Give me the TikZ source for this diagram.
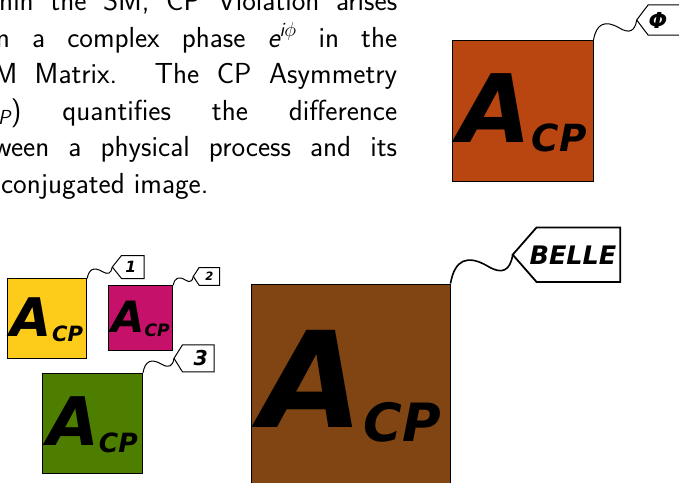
\RequirePackage{fix-cm}
\documentclass[tikz,border=0pt]{standalone}
\usepackage{amsmath}
\usepackage{fontspec}
\newfontfamily\dvbo{DejaVu Sans Bold Oblique}
\usetikzlibrary{calc}
\definecolor{cOrange}{HTML}{B94610}
\definecolor{cBrown}{HTML}{804512}
\definecolor{cYellow}{HTML}{FDCC1A}
\definecolor{cMagenta}{HTML}{C6116A}
\definecolor{cGreen}{HTML}{4E7E00}
\newcommand\sfit[1]{\text{\sffamily\itshape #1}}
\newcommand\acptext[1]{%
  \pgfmathsetlengthmacro\acpA{0.67*#1}%
  \pgfmathsetlengthmacro\acpC{0.265*#1}%
  \pgfmathsetlengthmacro\acpR{-0.067*#1}%
  \pgfmathsetlengthmacro\acpH{0.515*#1}%
  \rule{0pt}{\acpH}{\fontsize{\acpA}{\acpA}\selectfont A}\raisebox{\acpR}{\fontsize{\acpC}{\acpC}\selectfont CP}}
% wavy connector from #2 to #3
\newcommand\wavecon[3][]{%
  \draw[wave,#1] (#2) .. controls ($(#2)!0.2!(#3)!0.36!90:(#3)$) and ($(#2)!0.4!(#3)!0.48!90:(#3)$) ..
    ($(#2)!0.6!(#3)$) .. controls ($(#2)!0.733!(#3)!0.75!-90:(#3)$) and ($(#2)!0.867!(#3)!1.5!-90:(#3)$) .. (#3);}
% tag outline around body node #2 with tip #3
\newcommand\tagline[3][]{%
  \draw[tagedge,#1] (#2.north west) -- (#2.north east) -- (#2.south east) -- (#2.south west) -- (#3) -- cycle;}
\begin{document}
\begin{tikzpicture}[x=1pt,y=-1pt,
  acpbox/.style={draw=black, line width=1pt, minimum size=#1pt, inner sep=0pt, font=\dvbo},
  tagbody/.style={inner sep=0pt, font=\dvbo},
  tagedge/.style={draw=black, line width=1pt, line join=miter},
  wave/.style={draw=black, line width=1pt},
  para/.style={anchor=north west, inner sep=0pt, text width=440pt, align=justify,
    font=\sffamily\fontsize{29}{36.5}\selectfont}]
\useasboundingbox (0,0) rectangle (679,482);
\clip (0,0) rectangle (679,482);

% paragraph
\node[para] (txt) at (-43,-10.1) {Within the SM, CP Violation arises\linebreak
from a complex phase $\sfit{e}^{\sfit{i}\phi}$ in the\linebreak
CKM Matrix. The CP Asymmetry\linebreak
($\sfit{A}_{\sfit{CP}}$) quantifies the difference\linebreak
between a physical process and its\linebreak
CP conjugated image.};

% boxes
\node[acpbox=141, fill=cOrange] (phibox) at (522.5,111) {\acptext{141}};
\node[acpbox=79.4, fill=cYellow] (box1) at (47,318.6) {\acptext{79.4}};
\node[acpbox=64.4, fill=cMagenta] (box2) at (140.5,318) {\acptext{64.4}};
\node[acpbox=100, fill=cGreen] (box3) at (92.5,423.3) {\acptext{100}};
\node[acpbox=199, fill=cBrown] (bellebox) at (350.5,383.5) {\acptext{199}};

% tags
\node[tagbody, minimum width=41.7pt, minimum height=30pt, font=\dvbo\fontsize{22}{22}\selectfont] (tagphi) at (669.2,20) {\hspace*{-22.4pt}Φ};
\coordinate (tipphi) at (636.7,20);
\node[tagbody, minimum width=22.3pt, minimum height=22.6pt, font=\dvbo\fontsize{15.5}{15.5}\selectfont] (tag1) at (132.85,267) {\hspace*{-4pt}1};
\coordinate (tip1) at (112.3,267);
\node[tagbody, minimum width=20pt, minimum height=17.3pt, font=\dvbo\fontsize{11.5}{11.5}\selectfont] (tag2) at (209.3,276.4) {2};
\coordinate (tip2) at (193.3,276.4);
\node[tagbody, minimum width=31.3pt, minimum height=26.7pt, font=\dvbo\fontsize{20.5}{20.5}\selectfont] (tag3) at (198.35,358.35) {\hspace*{5pt}3};
\coordinate (tip3) at (174,358.35);
\node[tagbody, minimum width=83.3pt, minimum height=54pt, font=\dvbo\fontsize{25.5}{25.5}\selectfont] (tagbelle) at (578.35,254.7) {\hspace*{-10.7pt}BELLE};
\coordinate (tipbelle) at (512.7,254.7);

\tagline{tagphi}{tipphi}
\tagline{tag1}{tip1}
\tagline{tag2}{tip2}
\tagline{tag3}{tip3}
\tagline[line width=1.8pt]{tagbelle}{tipbelle}

% wavy connectors
\wavecon{phibox.north east}{tipphi}
\wavecon{box1.north east}{tip1}
\wavecon{box2.north east}{tip2}
\wavecon{box3.north east}{tip3}
\wavecon[line width=1.6pt]{bellebox.north east}{tipbelle}
\end{tikzpicture}
\end{document}
